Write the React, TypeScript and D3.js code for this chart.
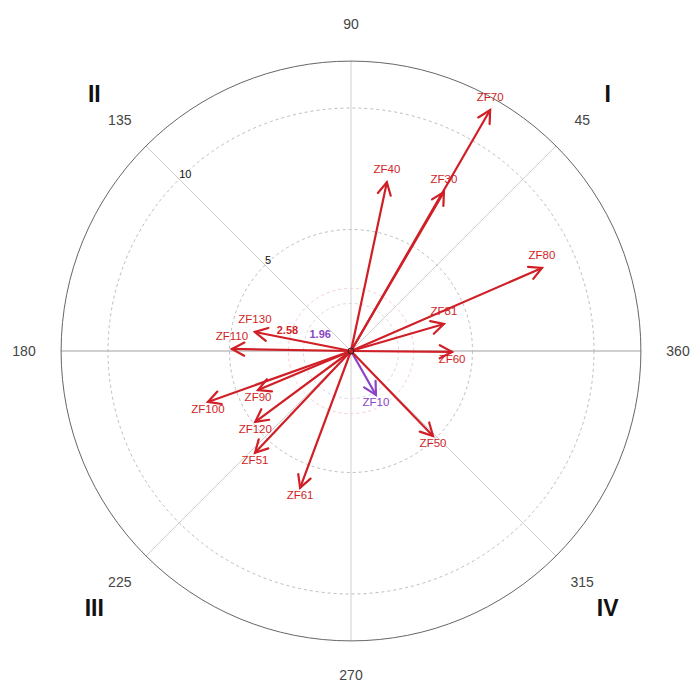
import * as d3 from 'd3';

// arrows: label, direction (degrees, counter-clockwise from east), magnitude
const arrowLabels = ['ZF70', 'ZF30', 'ZF40', 'ZF80', 'ZF81', 'ZF60', 'ZF10', 'ZF50', 'ZF130', 'ZF110', 'ZF90', 'ZF100', 'ZF120', 'ZF51', 'ZF61'];
const arrowAngles = [60.0, 59.7, 78, 23.5, 16.2, 359.5, 299.6, 314, 168.8, 179, 202.8, 199.6, 216.5, 226.7, 249.6];
const arrowMagnitudes = [11.45, 7.58, 7.1, 8.57, 3.98, 4.16, 2.08, 4.86, 4.03, 4.9, 4.15, 6.25, 4.9, 5.76, 6.01];

const gridRings = [5, 10];
const criticalValues = [1.96, 2.58];
const spokeAngles = [0, 45, 90, 135, 180, 225, 270, 315];
const angleTickLabels = ['360', '45', '90', '135', '180', '225', '270', '315'];
const quadrantLabels = ['I', 'II', 'III', 'IV'];
const quadrantAngles = [45, 135, 225, 315];
const outerValue = 11.93;

const W = 692;
const H = 684;
const cx = 351;
const cy = 351;
const RED = '#d01f26';
const PURPLE = '#8a45c6';

const r = d3.scaleLinear().domain([0, 10]).range([0, 243]);
const rad = (deg: number) => (deg * Math.PI) / 180;
const px = (deg: number, v: number) => cx + Math.cos(rad(deg)) * r(v);
const py = (deg: number, v: number) => cy - Math.sin(rad(deg)) * r(v);

export default function App() {
  const outerR = r(outerValue);
  const arrows = arrowLabels.map((label, i) => ({
    label,
    angle: arrowAngles[i],
    mag: arrowMagnitudes[i],
    color: arrowMagnitudes[i] > 2.58 ? RED : PURPLE,
  }));

  const head = (a: { angle: number; mag: number }) => {
    const tx = px(a.angle, a.mag);
    const ty = py(a.angle, a.mag);
    const len = 14;
    const back = rad(a.angle + 180);
    const p1x = tx + Math.cos(back + rad(28)) * len;
    const p1y = ty - Math.sin(back + rad(28)) * len;
    const p2x = tx + Math.cos(back - rad(28)) * len;
    const p2y = ty - Math.sin(back - rad(28)) * len;
    return `M${p1x},${p1y}L${tx},${ty}L${p2x},${p2y}`;
  };

  return (
    <svg
      width={W}
      height={H}
      style={{ position: 'absolute', left: 0, top: 0, background: '#fff' }}
      fontFamily="'Liberation Sans', Arial, sans-serif"
    >
      {/* spokes */}
      {spokeAngles.map(a => (
        <line
          key={a}
          x1={cx}
          y1={cy}
          x2={cx + Math.cos(rad(a)) * outerR}
          y2={cy - Math.sin(rad(a)) * outerR}
          stroke={a === 0 || a === 180 ? '#a0a0a0' : '#d0d0d0'}
          strokeWidth={1}
        />
      ))}

      {/* dashed rings */}
      {gridRings.map(v => (
        <circle key={v} cx={cx} cy={cy} r={r(v)} fill="none" stroke="#bdbdbd" strokeDasharray="3,3" />
      ))}
      <circle cx={cx} cy={cy} r={r(criticalValues[0])} fill="none" stroke="#ddd3e8" strokeDasharray="3,3" />
      <circle cx={cx} cy={cy} r={r(criticalValues[1])} fill="none" stroke="#f4cdd0" strokeDasharray="3,3" />

      {/* outer circle */}
      <circle cx={cx} cy={cy} r={outerR} fill="none" stroke="#666" strokeWidth={1} />

      {/* ring values along 135 */}
      {gridRings.map(v => (
        <text key={v} x={px(135, v)} y={py(135, v) - 1} fontSize={11} fill="#111">
          {v}
        </text>
      ))}

      {/* angle labels */}
      {spokeAngles.map((a, i) => (
        <text
          key={a}
          x={cx + Math.cos(rad(a)) * 327}
          y={cy - Math.sin(rad(a)) * (a === 270 ? 324 : 327)}
          fontSize={14}
          fill="#444"
          textAnchor="middle"
          dominantBaseline="central"
        >
          {angleTickLabels[i]}
        </text>
      ))}

      {/* quadrant labels */}
      {quadrantLabels.map((q, i) => (
        <text
          key={q}
          x={cx + Math.cos(rad(quadrantAngles[i])) * 363}
          y={cy - Math.sin(rad(quadrantAngles[i])) * 363}
          fontSize={23}
          fontWeight="bold"
          fill="#111"
          textAnchor="middle"
          dominantBaseline="central"
        >
          {q}
        </text>
      ))}

      {/* arrows */}
      {arrows.map(a => (
        <g key={a.label} stroke={a.color} strokeWidth={2.2} fill="none" strokeLinecap="round">
          <line x1={cx} y1={cy} x2={px(a.angle, a.mag)} y2={py(a.angle, a.mag)} />
          <path d={head(a)} />
        </g>
      ))}
      {arrows.map(a => {
        const upper = a.angle > 0 && a.angle < 180;
        return (
          <text
            key={a.label}
            x={px(a.angle, a.mag)}
            y={py(a.angle, a.mag) + (upper ? -13 : 7)}
            fontSize={11.5}
            fill={a.color}
            textAnchor="middle"
            dominantBaseline="central"
          >
            {a.label}
          </text>
        );
      })}

      {/* critical value labels */}
      <text x={px(162, 2.75)} y={py(162, 2.75)} fontSize={11} fontWeight="bold" fill={RED} textAnchor="middle" dominantBaseline="central">
        {criticalValues[1].toFixed(2)}
      </text>
      <text x={px(151, 1.45)} y={py(151, 1.45)} fontSize={11} fontWeight="bold" fill={PURPLE} textAnchor="middle" dominantBaseline="central">
        {criticalValues[0].toFixed(2)}
      </text>

      {/* centre */}
      <circle cx={cx} cy={cy} r={3} fill="none" stroke="#222" strokeWidth={1} />
    </svg>
  );
}
